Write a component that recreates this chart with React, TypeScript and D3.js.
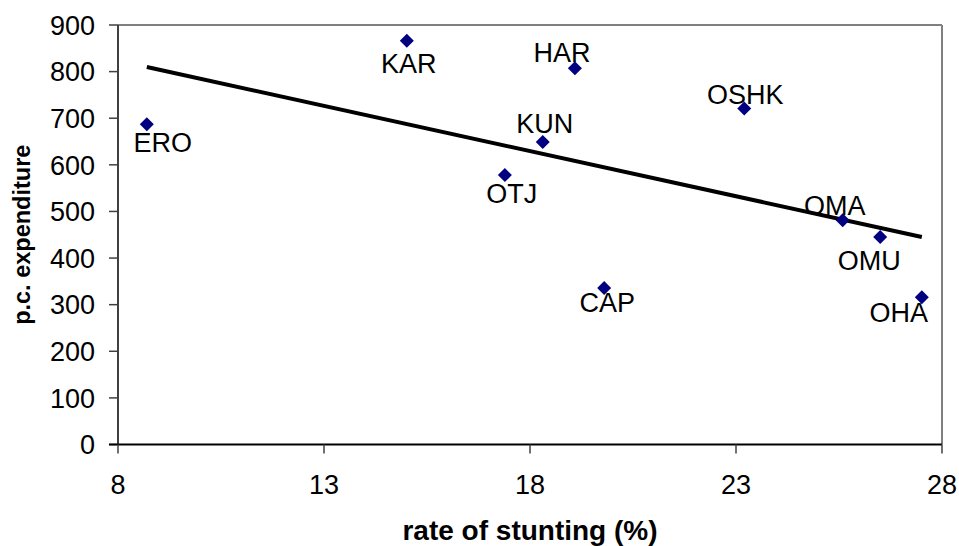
import React from "react";
import * as d3 from "d3";

// regions and values
const regions = ["ERO", "KAR", "HAR", "KUN", "OTJ", "OSHK", "OMA", "OMU", "CAP", "OHA"];
const stunting = [8.7, 15.01, 19.09, 18.31, 17.39, 23.2, 25.59, 26.5, 19.8, 27.51];
const expenditure = [687, 866, 807, 649, 578, 721, 481, 445, 336, 316];

const xTicks = [8, 13, 18, 23, 28];
const yTicks = [0, 100, 200, 300, 400, 500, 600, 700, 800, 900];

// label placement relative to the marker (hand-placed like in the original)
const labelNudge: Record<string, [number, number]> = {
  ERO: [16, 28], KAR: [2, 32], HAR: [-13, -6], KUN: [2, -9], OTJ: [7, 28],
  OSHK: [1, -4], OMA: [-8, -5], OMU: [-11, 33], CAP: [3, 24], OHA: [-23, 25],
};

const W = 959, H = 546;
const plot = { left: 118, right: 942, top: 25, bottom: 444.5 };
const font = "'Liberation Sans', Arial, sans-serif";

export default function App() {
  const x = d3.scaleLinear().domain([8, 28]).range([plot.left, plot.right]);
  const y = d3.scaleLinear().domain([0, 900]).range([plot.bottom, plot.top]);

  // least squares trend line, drawn across the data range
  const mx = d3.mean(stunting)!;
  const my = d3.mean(expenditure)!;
  const sxy = d3.sum(stunting, (v, i) => (v - mx) * (expenditure[i] - my));
  const sxx = d3.sum(stunting, v => (v - mx) ** 2);
  const slope = sxy / sxx;
  const fit = (v: number) => my + slope * (v - mx);
  const [x0, x1] = d3.extent(stunting) as [number, number];
  const trend = d3.line<number>().x(v => x(v)).y(v => y(fit(v)))([x0, x1]);

  const diamond = d3.symbol().type(d3.symbolDiamond2).size(125)();

  return (
    <svg width={W} height={H} style={{ position: "absolute", left: 0, top: 0, background: "#fff" }}
      fontFamily={font}>
      {/* frame */}
      <line x1={plot.left} x2={plot.right} y1={plot.top} y2={plot.top} stroke="#808080" strokeWidth={2} />
      <line x1={plot.right} x2={plot.right} y1={plot.top} y2={plot.bottom} stroke="#808080" strokeWidth={2} />

      {/* y axis */}
      <line x1={plot.left} x2={plot.left} y1={plot.top} y2={plot.bottom} stroke="#404040" strokeWidth={2} />
      {yTicks.map(t => (
        <g key={t} transform={`translate(0,${y(t)})`}>
          <line x1={plot.left - 9} x2={plot.left} stroke="#404040" strokeWidth={1.5} />
          <text x={95} dy="0.36em" textAnchor="end" fontSize={27} fill="#000">{t}</text>
        </g>
      ))}

      {/* x axis */}
      <line x1={plot.left - 9} x2={plot.right} y1={plot.bottom} y2={plot.bottom} stroke="#000" strokeWidth={2} />
      {xTicks.map(t => (
        <g key={t} transform={`translate(${x(t)},0)`}>
          <line y1={plot.bottom} y2={plot.bottom + 9} stroke="#404040" strokeWidth={1.5} />
          <text y={494} textAnchor="middle" fontSize={27} fill="#000">{t}</text>
        </g>
      ))}

      {/* axis titles */}
      <text x={(plot.left + plot.right) / 2} y={540} textAnchor="middle" fontSize={28} fontWeight="bold">
        rate of stunting (%)
      </text>
      <text transform={`translate(30,${(plot.top + plot.bottom) / 2}) rotate(-90)`} textAnchor="middle"
        fontSize={23.5} fontWeight="bold">
        p.c. expenditure
      </text>

      {/* trend */}
      <path d={trend ?? ""} fill="none" stroke="#000" strokeWidth={4} />

      {/* points + labels */}
      {regions.map((r, i) => {
        const px = x(stunting[i]);
        const py = y(expenditure[i]);
        const [dx, dy] = labelNudge[r];
        return (
          <g key={r}>
            <path d={diamond ?? ""} transform={`translate(${px},${py})`} fill="#000080" />
            <text x={px + dx} y={py + dy} textAnchor="middle" fontSize={27} fill="#000">{r}</text>
          </g>
        );
      })}
    </svg>
  );
}
